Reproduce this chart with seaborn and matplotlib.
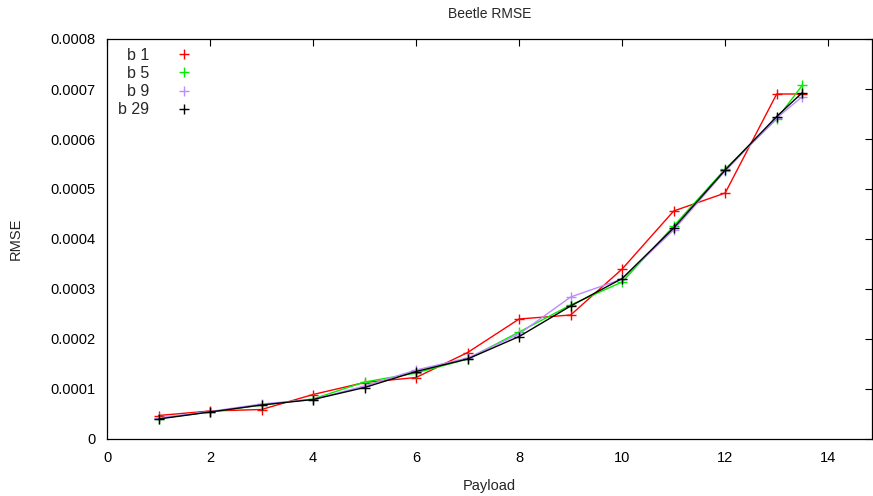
#!/usr/bin/env python3

import numpy as np
import pandas as pd
import matplotlib
matplotlib.use("Agg")
import matplotlib.pyplot as plt
from matplotlib.lines import Line2D
from matplotlib.ticker import FuncFormatter, MultipleLocator
import seaborn as sns

payload = [1, 2, 3, 4, 5, 6, 7, 8, 9, 10, 11, 12, 13, 13.5]

rmse_b1 = [0.47e-4, 0.56e-4, 0.59e-4, 0.89e-4, 1.13e-4, 1.23e-4, 1.73e-4,
           2.40e-4, 2.48e-4, 3.40e-4, 4.56e-4, 4.92e-4, 6.90e-4, 6.90e-4]
rmse_b5 = [0.41e-4, 0.54e-4, 0.68e-4, 0.80e-4, 1.14e-4, 1.32e-4, 1.60e-4,
           2.14e-4, 2.68e-4, 3.14e-4, 4.26e-4, 5.40e-4, 6.40e-4, 7.08e-4]
rmse_b9 = [0.42e-4, 0.55e-4, 0.70e-4, 0.79e-4, 1.06e-4, 1.38e-4, 1.62e-4,
           2.10e-4, 2.84e-4, 3.20e-4, 4.18e-4, 5.36e-4, 6.42e-4, 6.85e-4]
rmse_b29 = [0.40e-4, 0.54e-4, 0.68e-4, 0.79e-4, 1.03e-4, 1.35e-4, 1.60e-4,
            2.05e-4, 2.66e-4, 3.21e-4, 4.22e-4, 5.38e-4, 6.45e-4, 6.93e-4]

series_labels = ["b 1", "b 5", "b 9", "b 29"]
series_colors = ["#ff0000", "#00ee00", "#bb8cff", "#000000"]

if __name__ == "__main__":

    sns.set_style("white")
    plt.rcParams["font.family"] = ["Liberation Sans", "DejaVu Sans"]

    df = pd.DataFrame({
        "Payload": payload * 4,
        "RMSE": rmse_b1 + rmse_b5 + rmse_b9 + rmse_b29,
        "beetle": np.repeat(series_labels, len(payload)),
    })

    fig = plt.figure(figsize=(8.73, 4.96), dpi=100)
    ax = fig.add_axes([107 / 873, 57 / 496, 765 / 873, 400 / 496])

    for lab, col in zip(series_labels, series_colors):
        sub = df[df["beetle"] == lab]
        sns.lineplot(data=sub, x="Payload", y="RMSE", ax=ax, color=col,
                     marker="+", markersize=7, markeredgewidth=1,
                     markeredgecolor=col, linewidth=1, legend=False)

    ax.set_xlim(0, 14.85)
    ax.set_ylim(0, 0.0008)
    ax.xaxis.set_major_locator(MultipleLocator(2))
    ax.yaxis.set_major_locator(MultipleLocator(0.0001))
    ax.yaxis.set_major_formatter(FuncFormatter(lambda v, p: "0" if abs(v) < 1e-12 else f"{v:.4f}"))
    ax.tick_params(direction="in", length=5, width=0.8, top=True, right=True,
                   labelsize=10.5, pad=8, colors="black")
    ax.tick_params(axis="x", pad=9)
    for s in ax.spines.values():
        s.set_color("black")
        s.set_linewidth(0.9)

    ax.set_xlabel("Payload", fontsize=10.5, labelpad=10)
    ax.set_ylabel("RMSE", fontsize=10.5, labelpad=20)
    ax.set_title("Beetle RMSE", fontsize=10, pad=15)

    # gnuplot-style key: label first, right-aligned, point symbol only
    handles = [Line2D([], [], color=c, marker="+", linestyle="none",
                      markersize=7, markeredgewidth=1) for c in series_colors]
    leg = ax.legend(handles, series_labels, loc="upper left", frameon=False,
                    markerfirst=False, fontsize=11.5, handlelength=1.5,
                    handletextpad=3.4, labelspacing=0.2,
                    bbox_to_anchor=(-0.045, 1.014))
    fig.canvas.draw()
    renderer = fig.canvas.get_renderer()
    shift = max(t.get_window_extent(renderer).width for t in leg.get_texts())
    for t in leg.get_texts():
        t.set_ha("right")
        t.set_position((shift, 0))

    fig.savefig("out.png", dpi=100)
    plt.close(fig)
